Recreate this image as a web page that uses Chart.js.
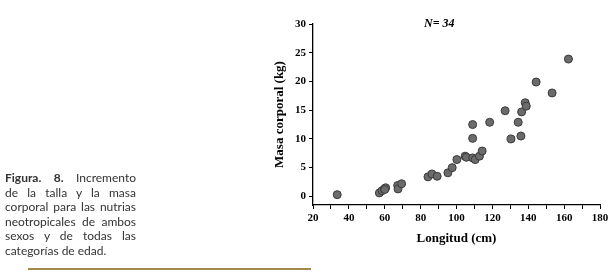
<!DOCTYPE html>
<html><head><meta charset="utf-8">
<script src="https://cdn.jsdelivr.net/npm/chart.js@4/dist/chart.umd.min.js"></script>
<style>
html,body{margin:0;padding:0;background:#fff;}
#wrap{position:relative;width:615px;height:279px;overflow:hidden;}
#c{position:absolute;left:0;top:0;}
#cap{position:absolute;left:5px;top:171px;width:131px;font-family:Lato,"Open Sans",sans-serif;font-size:12px;line-height:14.5px;color:#333;}
#cap div{text-align:justify;text-align-last:justify;white-space:nowrap;}
#cap div.last{text-align-last:left;}
#cap b{font-weight:700;}
#rule{position:absolute;left:28px;top:268px;width:283px;height:2px;background:#a3894a;}
</style></head>
<body><div id="wrap">
<canvas id="c" width="615" height="279"></canvas>
<div id="cap">
<div><b>Figura.</b> <b>8.</b> Incremento</div>
<div>de la talla y la masa</div>
<div>corporal para las nutrias</div>
<div>neotropicales de ambos</div>
<div>sexos y de todas las</div>
<div class="last">categorías de edad.</div>
</div>
<div id="rule"></div>
</div>
<script>
const longitud = [33.5,57,58.5,59.8,60.5,60.0,67.2,67.4,69.4,84.1,86.3,89.2,95.2,97.6,100.2,104.8,105.5,109,110.4,112.8,114.3,109,109,118.5,127.1,130.4,134.4,135.9,136.3,138.3,138.9,144.4,153.3,162.4];
const masa     = [0.3,0.6,1.0,1.3,1.5,1.2,1.9,1.3,2.2,3.4,3.9,3.5,4.1,5.0,6.4,7.0,6.8,6.7,6.4,7.0,7.9,10.1,12.5,12.9,14.9,10.0,12.9,10.5,14.7,16.3,15.7,19.9,18.0,23.9];
const yTicks = [0,5,10,15,20,25,30];
const xLabels = [20,40,60,80,100,120,140,160,180];

const pts = longitud.map((x,i)=>({x:x,y:masa[i]}));
const serif = "'Liberation Serif','DejaVu Serif',serif";

const nLabel = {
  id:'nLabel',
  afterDraw(chart){
    const ctx=chart.ctx;
    ctx.save();
    ctx.font="italic bold 12px "+serif;
    ctx.fillStyle='#000';
    ctx.textBaseline='middle';
    ctx.fillText('N= 34', 424, 24);
    ctx.restore();
  }
};

new Chart(document.getElementById('c'),{
  type:'scatter',
  data:{datasets:[{data:pts,backgroundColor:'#6b6b6b',borderColor:'#3a3a3a',borderWidth:1,pointRadius:4,pointHoverRadius:4}]},
  options:{
    responsive:false,animation:false,
    layout:{padding:{left:272,top:24,right:15,bottom:33}},
    plugins:{legend:{display:false},tooltip:{enabled:false}},
    scales:{
      x:{
        type:'linear',min:20,max:180,
        afterFit(s){s.height=41;},
        border:{display:true,color:'#000',width:1.3},
        grid:{display:true,drawOnChartArea:false,drawTicks:true,tickLength:4,color:'#000',lineWidth:1},
        ticks:{stepSize:10,autoSkip:false,maxRotation:0,padding:3,color:'#000',font:{family:serif,weight:'bold',size:11},
          callback:(v)=>xLabels.includes(v)?String(v):''},
        title:{display:true,text:'Longitud (cm)',color:'#000',font:{family:serif,weight:'bold',size:13},padding:0}
      },
      y:{
        type:'linear',min:-1.5,max:30,
        afterFit(s){s.width=41;},
        afterBuildTicks(s){s.ticks=yTicks.map(v=>({value:v}));},
        border:{display:true,color:'#000',width:1.3},
        grid:{display:true,drawOnChartArea:false,drawTicks:true,tickLength:4,color:'#000',lineWidth:1},
        ticks:{padding:3,color:'#000',font:{family:serif,weight:'bold',size:11}},
        title:{display:true,text:'Masa corporal (kg)',color:'#000',font:{family:serif,weight:'bold',size:13},padding:0}
      }
    }
  },
  plugins:[nLabel]
});
</script>
</body></html>
